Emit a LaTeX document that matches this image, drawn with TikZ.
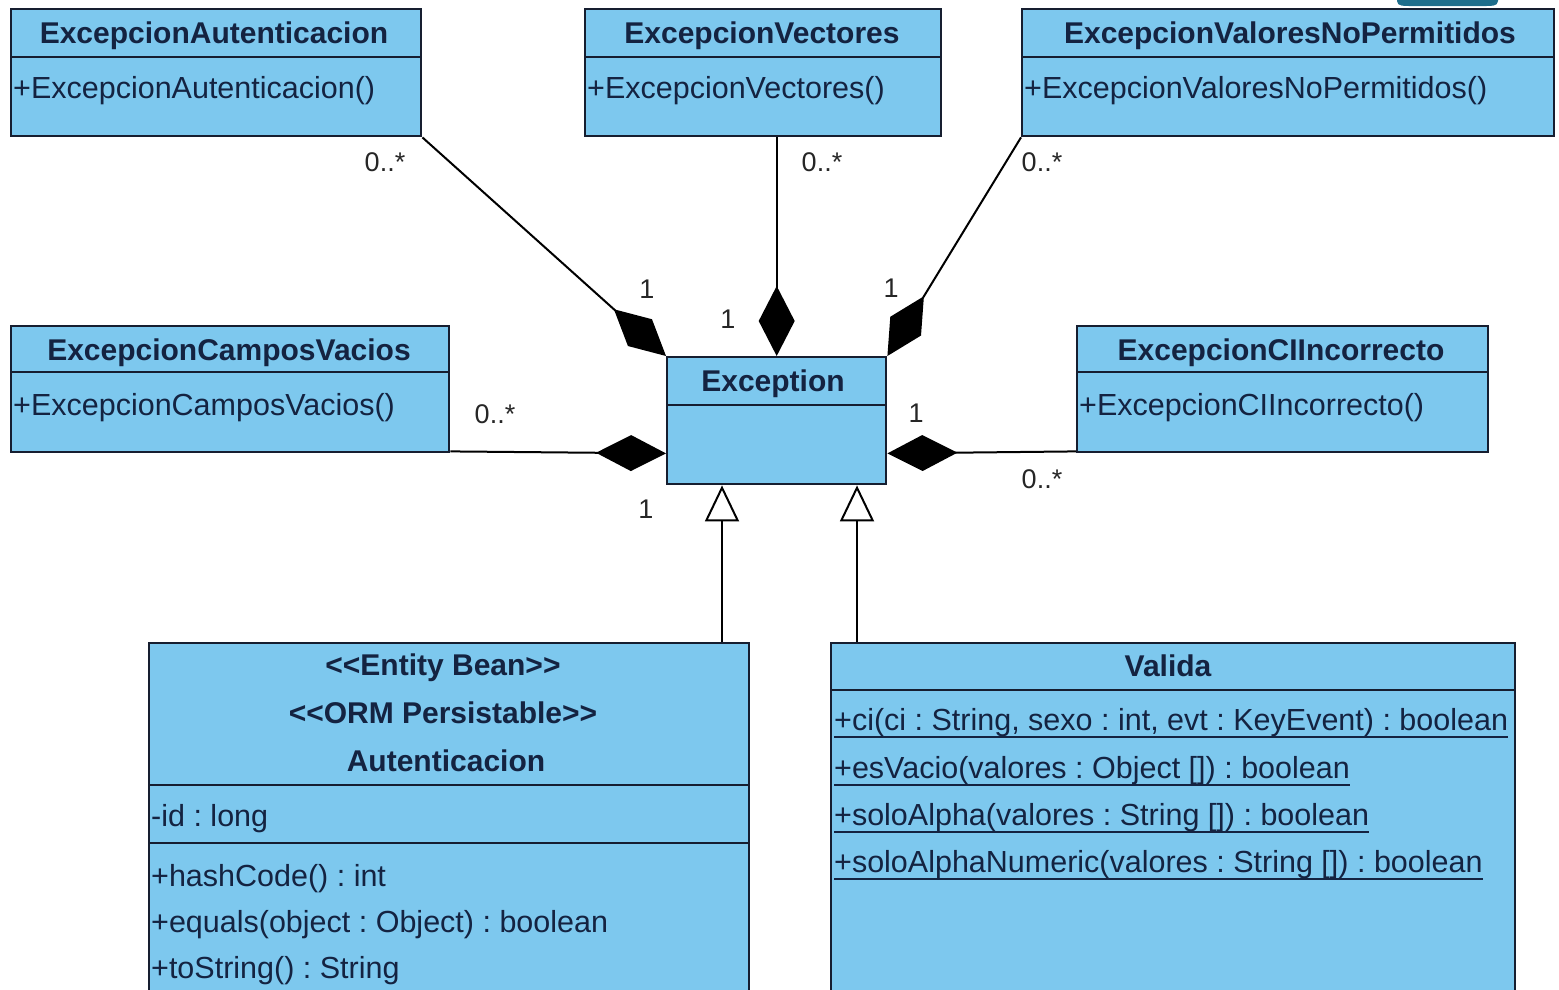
\documentclass[tikz,border=0pt]{standalone}
\usepackage{fontspec}
\setmainfont{Liberation Sans}[Ligatures=TeXOff]
\usetikzlibrary{arrows.meta}
\definecolor{cfill}{RGB}{125,200,238}
\definecolor{cline}{RGB}{22,30,48}
\definecolor{ctext}{RGB}{20,35,65}
\definecolor{clogo}{RGB}{30,110,140}
\frenchspacing
\begin{document}
\begin{tikzpicture}[x=1pt,y=-1pt,
  cls/.style={draw=cline, line width=2.4pt, fill=cfill, anchor=north west, inner sep=0pt},
  ttl/.style={font=\fontsize{30}{34}\selectfont\bfseries, text=ctext, inner sep=0pt, text height=21pt, text depth=6pt, anchor=center},
  mem/.style={font=\fontsize{30.5}{34}\selectfont, text=ctext, inner sep=0pt, text height=21pt, text depth=6pt, anchor=west},
  mult/.style={font=\fontsize{27}{32}\selectfont, text=black!85, inner sep=0pt},
  comp/.style={draw=black, line width=2pt, -{Diamond[length=70pt,width=36pt]}},
  gen/.style={draw=black, line width=2pt, -{Triangle[open,length=36pt,width=34pt,fill=white]}},
  sepl/.style={draw=cline, line width=2.2pt},
  uline/.style={draw=ctext, line width=2.4pt}
]
\useasboundingbox (0,0) rectangle (1559,989);
\clip (0,0) rectangle (1559,989);

% logo fragment top right
\fill[clogo] (1397,0) -- (1397,1) to[out=-90,in=180] (1410,6) -- (1485,6) to[out=0,in=-90] (1498,1) -- (1498,0) -- cycle;

% ---- top row
\node[cls, minimum width=410pt, minimum height=127pt] (ea) at (10,8) {};
\draw[sepl] (10,57) -- (420,57);
\node[ttl] (eat) at (214,36) {ExcepcionAutenticacion};
\node[mem] (eam) at (13,91) {+ExcepcionAutenticacion()};

\node[cls, minimum width=356pt, minimum height=127pt] (ev) at (584,8) {};
\draw[sepl] (584,57) -- (940,57);
\node[ttl] (evt) at (762,36) {ExcepcionVectores};
\node[mem] (evm) at (587,91) {+ExcepcionVectores()};

\node[cls, minimum width=532pt, minimum height=127pt] (evnp) at (1021,8) {};
\draw[sepl] (1021,57) -- (1553,57);
\node[ttl] (evnpt) at (1290,36) {ExcepcionValoresNoPermitidos};
\node[mem] (evnpm) at (1024,91) {+ExcepcionValoresNoPermitidos()};

% ---- middle row
\node[cls, minimum width=438pt, minimum height=126pt] (ecv) at (10,325) {};
\draw[sepl] (10,372) -- (448,372);
\node[ttl] (ecvt) at (229,353) {ExcepcionCamposVacios};
\node[mem] (ecvm) at (13,408) {+ExcepcionCamposVacios()};

\node[cls, minimum width=219pt, minimum height=127pt] (exc) at (666,356) {};
\draw[sepl] (666,405) -- (885,405);
\node[ttl] (exct) at (773,384) {Exception};

\node[cls, minimum width=411pt, minimum height=126pt] (eci) at (1076,325) {};
\draw[sepl] (1076,372) -- (1487,372);
\node[ttl] (ecit) at (1281,353) {ExcepcionCIIncorrecto};
\node[mem] (ecim) at (1079,408) {+ExcepcionCIIncorrecto()};

% ---- bottom row
\node[cls, minimum width=600pt, minimum height=380pt] (aut) at (148,642) {};
\draw[sepl] (148,785) -- (748,785);
\draw[sepl] (148,843) -- (748,843);
\node[ttl] (aut1) at (443,668) {<<Entity Bean>>};
\node[ttl] (aut2) at (443,716) {<<ORM Persistable>>};
\node[ttl] (aut3) at (446,764) {Autenticacion};
\node[mem] (auta) at (151,819) {-id : long};
\node[mem] (autm1) at (151,879) {+hashCode() : int};
\node[mem] (autm2) at (151,925) {+equals(object : Object) : boolean};
\node[mem] (autm3) at (151,971) {+toString() : String};

\node[cls, minimum width=684pt, minimum height=380pt] (val) at (830,642) {};
\draw[sepl] (830,690) -- (1514,690);
\node[ttl] (valt) at (1168,669) {Valida};
\node[mem] (valm1) at (834,723) {+ci(ci : String, sexo : int, evt : KeyEvent) : boolean};
\node[mem] (valm2) at (834,771) {+esVacio(valores : Object []) : boolean};
\node[mem] (valm3) at (834,818) {+soloAlpha(valores : String []) : boolean};
\node[mem] (valm4) at (834,865) {+soloAlphaNumeric(valores : String []) : boolean};
\foreach \n in {valm1,valm2,valm3,valm4}
  \draw[uline] (\n.south west) -- (\n.south east);

% ---- connectors
\draw[comp] (ea.south east) -- (exc.north west);
\draw[comp] (exc.north |- ev.south) -- (exc.north);
\draw[comp] (evnp.south west) -- (exc.north east);
\draw[comp] ([yshift=2pt]ecv.south east) -- ([yshift=32pt]exc.south west);
\draw[comp] ([yshift=2pt]eci.south west) -- ([yshift=32pt]exc.south east);

\coordinate (g1) at (722,642);
\coordinate (g2) at (857,642);
\draw[gen] (g1) -- (g1 |- exc.south);
\draw[gen] (g2) -- (g2 |- exc.south);

% ---- multiplicities
\node[mult] (m1a) at (385,162) {0..*};
\node[mult] (m1b) at (647,289) {1};
\node[mult] (m2a) at (822,162) {0..*};
\node[mult] (m2b) at (728,319) {1};
\node[mult] (m3a) at (1042,162) {0..*};
\node[mult] (m3b) at (891,288) {1};
\node[mult] (m4a) at (495,414) {0..*};
\node[mult] (m4b) at (646,509) {1};
\node[mult] (m5a) at (916,413) {1};
\node[mult] (m5b) at (1042,479) {0..*};
\end{tikzpicture}
\end{document}
